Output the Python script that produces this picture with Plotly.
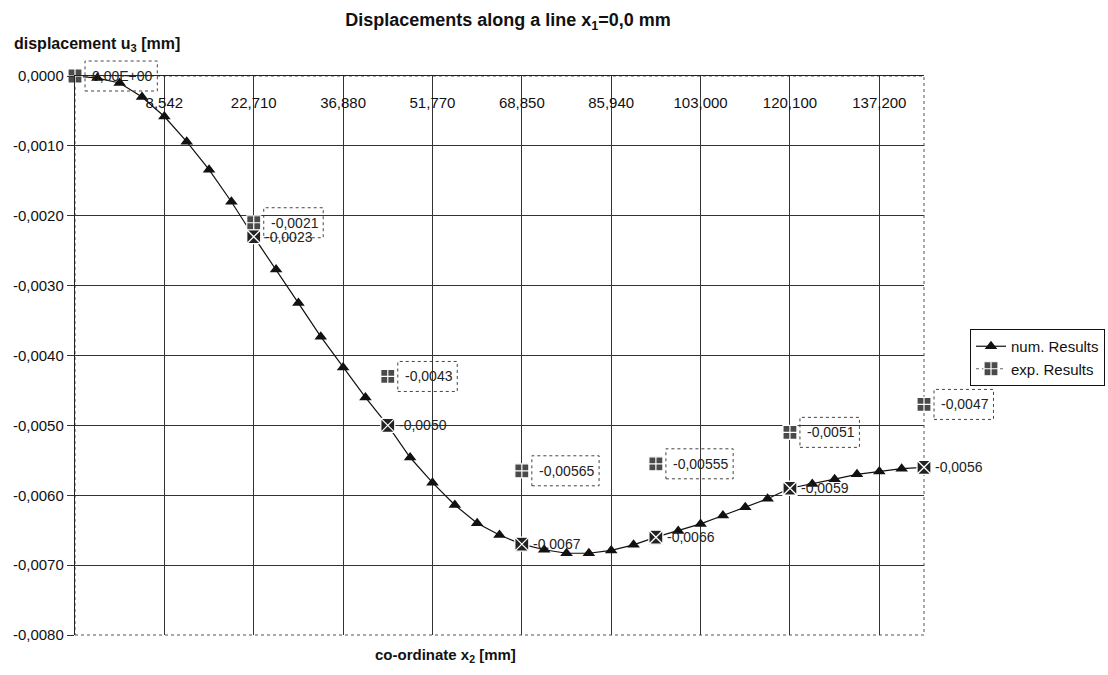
import plotly.graph_objects as go

# ---- data -------------------------------------------------------------
# numerical results, one value per evaluation point along the line
point_index = list(range(39))
num_u3 = [
    0.0, -0.00003, -0.0001, -0.0003, -0.00058, -0.00094, -0.00134, -0.0018,
    -0.0023, -0.00277, -0.00325, -0.00373, -0.00417, -0.0046, -0.0050,
    -0.00546, -0.00582, -0.00614, -0.0064, -0.00657, -0.0067, -0.00678,
    -0.00683, -0.00683, -0.00679, -0.00671, -0.0066, -0.00651, -0.00641,
    -0.00629, -0.00617, -0.00605, -0.0059, -0.00584, -0.00577, -0.0057,
    -0.00566, -0.00562, -0.0056,
]

# experimental results (measured at a subset of the evaluation points)
exp_index = [0, 8, 14, 20, 26, 32, 38]
exp_u3 = [0.0, -0.0021, -0.0043, -0.00565, -0.00555, -0.0051, -0.0047]

# x2 co-ordinate labels shown on every 4th point
x_tick_index = [4, 8, 12, 16, 20, 24, 28, 32, 36]
x_tick_labels = ["8,542", "22,710", "36,880", "51,770", "68,850",
                 "85,940", "103,000", "120,100", "137,200"]

y_tick_values = [0.0, -0.001, -0.002, -0.003, -0.004,
                 -0.005, -0.006, -0.007, -0.008]
y_tick_labels = ["0,0000", "-0,0010", "-0,0020", "-0,0030", "-0,0040",
                 "-0,0050", "-0,0060", "-0,0070", "-0,0080"]

X_RANGE = [0, 38]
Y_RANGE = [-0.008, 0.0]

# ---- styling ----------------------------------------------------------
FONT = "Liberation Sans, Arial, sans-serif"
INK = "#111111"
GRID = "#333333"
LABEL_SIZE = 14

# Arial advance widths (em) used to size the dotted label frames
CHAR_EM = {"0": 0.556, "1": 0.556, "2": 0.556, "3": 0.556, "4": 0.556,
           "5": 0.556, "6": 0.556, "7": 0.556, "8": 0.556, "9": 0.556,
           ",": 0.278, "-": 0.333, "E": 0.667, "+": 0.584}


def text_px(s, size):
    return sum(CHAR_EM.get(c, 0.556) for c in s) * size


def exp_label(v):
    if v == 0:
        return f"{v:.2E}".replace(".", ",")
    return repr(v).replace(".", ",")


def num_label(v):
    return f"{v:.4f}".replace(".", ",")


def to_paper(v, rng):
    return (v - rng[0]) / (rng[1] - rng[0])


num_at_exp = [num_u3[i] for i in exp_index]

EXP_MARKER = dict(symbol="square-cross", size=14, color="#4a4a4a",
                  line=dict(color="white", width=1.2))

fig = go.Figure()

fig.add_trace(go.Scatter(
    x=point_index, y=num_u3, mode="lines+markers", name="num. Results",
    legendgroup="num", cliponaxis=False,
    line=dict(color=INK, width=1.2),
    marker=dict(symbol="triangle-up", size=11, color=INK),
))

# highlighted numerical points at the measurement locations
fig.add_trace(go.Scatter(
    x=exp_index, y=num_at_exp, mode="markers", showlegend=False,
    cliponaxis=False,
    marker=dict(symbol="square-x", size=14, color="#222222",
                line=dict(color="white", width=1.3)),
    hoverinfo="skip",
))

fig.add_trace(go.Scatter(
    x=exp_index, y=exp_u3, mode="markers", showlegend=False,
    cliponaxis=False, marker=EXP_MARKER,
))

# legend entry for the experimental series (dotted sample line);
# it also carries the secondary x axis used for the co-ordinate labels
fig.add_trace(go.Scatter(
    x=[None], y=[None], mode="lines+markers", name="exp. Results",
    legendgroup="exp", xaxis="x2",
    line=dict(color="#666666", width=1, dash="dot"),
    marker=EXP_MARKER,
))

annotations = []
shapes = []

# experimental value labels in dotted frames (frames may overhang the
# plot area, so they are anchored in paper space)
for i, v in zip(exp_index, exp_u3):
    txt = exp_label(v)
    w = text_px(txt, LABEL_SIZE) + 12
    shapes.append(dict(
        type="rect", xref="paper", yref="paper",
        xsizemode="pixel", ysizemode="pixel",
        xanchor=to_paper(i, X_RANGE), yanchor=to_paper(v, Y_RANGE),
        x0=10, x1=10 + w, y0=-15, y1=15,
        line=dict(color="#444444", width=1, dash="dot"),
    ))
    annotations.append(dict(
        x=i, y=v, xref="x", yref="y", text=txt, showarrow=False,
        xanchor="left", yanchor="middle", xshift=15,
        font=dict(family=FONT, size=LABEL_SIZE, color="#222222"),
    ))

# numerical value labels (skip the origin, labelled by the measurement)
for i, v in zip(exp_index[1:], num_at_exp[1:]):
    annotations.append(dict(
        x=i, y=v, xref="x", yref="y", text=num_label(v), showarrow=False,
        xanchor="left", yanchor="middle", xshift=9,
        font=dict(family=FONT, size=LABEL_SIZE, color="#222222"),
    ))

# axis titles
annotations.append(dict(
    x=-0.0742, y=1.057, xref="paper", yref="paper", showarrow=False,
    text="<b>displacement u<sub>3</sub> [mm]</b>", xanchor="left",
    yanchor="middle", font=dict(family=FONT, size=16, color=INK),
))
annotations.append(dict(
    x=0.436, y=-0.036, xref="paper", yref="paper", showarrow=False,
    text="<b>co-ordinate x<sub>2</sub> [mm]</b>", xanchor="center",
    yanchor="middle", font=dict(family=FONT, size=15, color=INK),
))

# dotted plot-area frame
shapes.append(dict(
    type="rect", xref="paper", yref="paper", x0=0, x1=1, y0=0, y1=1,
    line=dict(color="#555555", width=1, dash="dot"), layer="below",
))

fig.update_layout(
    width=1108, height=675,
    margin=dict(l=75, r=184, t=76, b=40, autoexpand=False),
    paper_bgcolor="white", plot_bgcolor="white",
    font=dict(family=FONT, color=INK),
    title=dict(
        text="<b>Displacements along a line x<sub>1</sub>=0,0 mm</b>",
        x=508 / 1108, xanchor="center", xref="container",
        y=1 - 20 / 675, yanchor="middle", yref="container",
        font=dict(family=FONT, size=18, color=INK),
    ),
    # category axis: gridlines and the solid line along u3 = 0
    xaxis=dict(
        range=X_RANGE, side="top", tickmode="array",
        tickvals=x_tick_index, ticktext=x_tick_labels,
        showticklabels=False, ticks="",
        showgrid=True, gridcolor=GRID, gridwidth=1.4,
        showline=True, linecolor="#222222", linewidth=1.4,
        zeroline=False, automargin=False,
    ),
    # co-ordinate labels hanging just below the u3 = 0 line
    xaxis2=dict(
        range=X_RANGE, overlaying="x", anchor="free",
        position=1 - (111 - 76) / 559, side="top", tickmode="array",
        tickvals=x_tick_index, ticktext=x_tick_labels, ticks="",
        showgrid=False, showline=False, zeroline=False,
        tickfont=dict(family=FONT, size=15, color=INK), automargin=False,
    ),
    yaxis=dict(
        range=Y_RANGE, domain=[0, 1], tickmode="array",
        tickvals=y_tick_values, ticktext=y_tick_labels,
        ticks="outside", ticklen=7, tickcolor="#333333",
        showgrid=True, gridcolor=GRID, gridwidth=1.4,
        showline=True, linecolor="#222222", linewidth=1.4,
        zeroline=False, tickfont=dict(family=FONT, size=15, color=INK),
        automargin=False,
    ),
    legend=dict(
        x=(970 - 75) / 849, y=1 - (329 - 76) / 559,
        xanchor="left", yanchor="top",
        bgcolor="white", bordercolor=INK, borderwidth=1,
        font=dict(family=FONT, size=15, color=INK),
        traceorder="grouped", tracegroupgap=0,
    ),
    annotations=annotations,
    shapes=shapes,
    showlegend=True,
)

fig.write_html("out.html")
